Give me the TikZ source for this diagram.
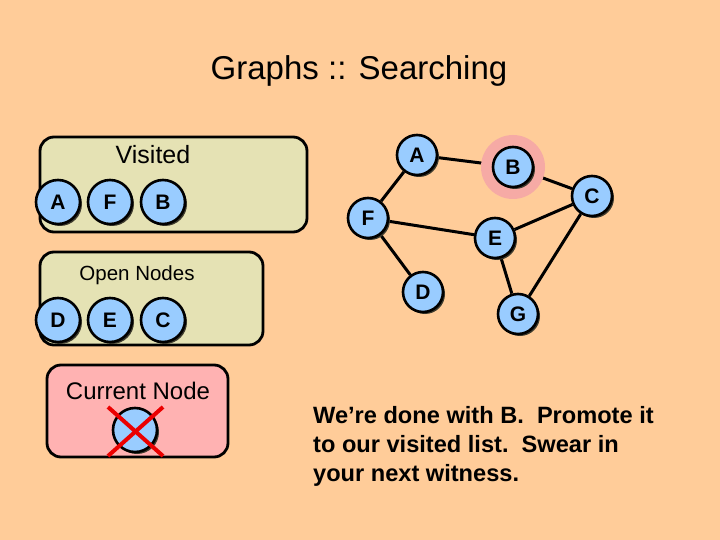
\documentclass[tikz,border=0pt]{standalone}
\usepackage{fontspec}
\setmainfont{Liberation Sans}
\usetikzlibrary{shadows}
\definecolor{bgpeach}{RGB}{255,204,153}
\definecolor{boxolive}{RGB}{229,226,180}
\definecolor{boxpink}{RGB}{255,178,178}
\definecolor{nodeblue}{RGB}{153,204,255}
\definecolor{halopink}{RGB}{246,170,165}
\definecolor{xred}{RGB}{235,0,0}
\pgfdeclarelayer{edges}
\pgfdeclarelayer{bg}
\pgfsetlayers{bg,edges,main}
\tikzset{
  gnode/.style={circle, draw=black, line width=2.6pt, fill=nodeblue, minimum size=40pt, inner sep=0pt,
    font=\fontsize{21}{24}\selectfont\bfseries,
    drop shadow={shadow xshift=2pt, shadow yshift=-2pt, fill=black!75!olive, opacity=1}},
  lnode/.style={gnode, minimum size=44pt},
  listbox/.style={draw=black, line width=2.8pt, rounded corners=14pt},
  edge/.style={line width=3pt, draw=black},
  boxlabel/.style={font=\fontsize{21}{24}\selectfont, anchor=base},
  xline/.style={draw=xred, line width=4pt}
}
\begin{document}
\begin{tikzpicture}[x=1pt,y=-1pt]
\begin{pgfonlayer}{bg}
\fill[bgpeach] (0,0) rectangle (720,540);
\end{pgfonlayer}
\useasboundingbox (0,0) rectangle (720,540);

% title
\node[font=\fontsize{33}{36}\selectfont, anchor=base] (title) at (359,80) {Graphs :: Searching};

% boxes
\draw[listbox, fill=boxolive] (40,137) rectangle (307,232);
\node[boxlabel, font=\fontsize{25}{28}\selectfont] (visitedlbl) at (153,164) {Visited};
\node[lnode] (vA) at (58,202) {A};
\node[lnode] (vF) at (110,202) {F};
\node[lnode] (vB) at (163,202) {B};

\draw[listbox, fill=boxolive] (40,252) rectangle (263,345);
\node[boxlabel, font=\fontsize{20.5}{24}\selectfont] (openlbl) at (137,280) {Open Nodes};
\node[lnode] (oD) at (58,320) {D};
\node[lnode] (oE) at (110,320) {E};
\node[lnode] (oC) at (163,320) {C};

\draw[listbox, fill=boxpink] (47,365) rectangle (228,457);
\node[boxlabel, font=\fontsize{24}{28}\selectfont] (curlbl) at (138,399) {Current Node};
\node[lnode] (cur) at (135,430) {};
\coordinate (x1) at (108,407);
\coordinate (x2) at (163,456);
\coordinate (x3) at (163,407);
\coordinate (x4) at (108,456);
\draw[xline] (x1) -- (x2);
\draw[xline] (x3) -- (x4);

% graph
\fill[halopink] (513,167) circle (32);
\node[gnode] (A) at (417,155) {A};
\node[gnode] (B) at (513,167) {B};
\node[gnode] (C) at (592,196) {C};
\node[gnode] (F) at (368,218) {F};
\node[gnode] (E) at (495,238) {E};
\node[gnode] (D) at (423,292) {D};
\node[gnode] (G) at (518,314) {G};
\begin{pgfonlayer}{edges}
\draw[edge] (A) -- (B);
\draw[edge] (A) -- (F);
\draw[edge] (B) -- (C);
\draw[edge] (C) -- (E);
\draw[edge] (C) -- (G);
\draw[edge] (F) -- (E);
\draw[edge] (F) -- (D);
\draw[edge] (E) -- (G);
\end{pgfonlayer}

% text
\node[anchor=base west, align=left, font=\fontsize{23.6}{29}\selectfont\bfseries, inner sep=0pt] (msg) at (313,481)
  {We’re done with B.\ \ Promote it\\to our visited list.\ \ Swear in\\your next witness.};
\end{tikzpicture}
\end{document}
